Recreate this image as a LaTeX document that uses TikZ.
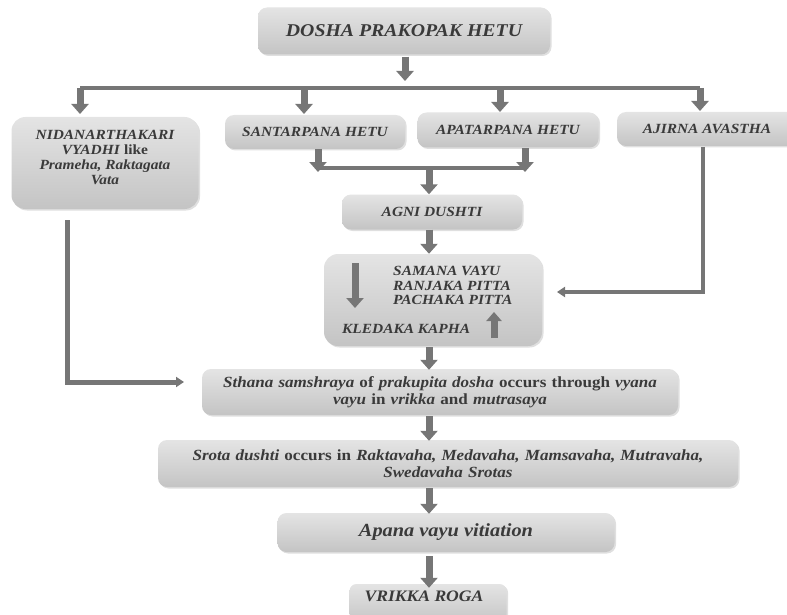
\documentclass[tikz,border=0pt]{standalone}
\usepackage{fontspec}
\setmainfont[FakeStretch=1.1]{Liberation Serif}
\usetikzlibrary{arrows.meta,shadows,calc}
\definecolor{txt}{HTML}{3A3A3A}
\definecolor{arr}{HTML}{767676}
\definecolor{boxtop}{HTML}{E4E4E4}
\definecolor{boxbot}{HTML}{C4C4C4}
\begin{document}
\begin{tikzpicture}[x=1pt,y=-1pt,
  box/.style={rectangle, rounded corners=9pt, top color=boxtop, bottom color=boxbot,
    draw=none, drop shadow={opacity=0.25,shadow xshift=1.5pt,shadow yshift=-1.5pt},
    text=txt, font=\bfseries\itshape\fontsize{14}{15}\selectfont, align=center, inner sep=2pt},
  sent/.style={font=\bfseries\itshape\fontsize{15.5}{17}\selectfont},
  blk/.style={line width=7pt, draw=arr, -{Triangle[width=17pt,length=10pt]}},
  bar/.style={line width=3.5pt, draw=arr},
  thinarr/.style={line width=3.5pt, draw=arr, -{Triangle[width=10pt,length=8pt]}},
  lbl/.style={text=txt, font=\bfseries\itshape\fontsize{14}{15}\selectfont, inner sep=0pt},
]
\useasboundingbox (0,0) rectangle (787,615);

% boxes
\node[box, minimum width=292, minimum height=47, font=\bfseries\itshape\fontsize{18}{21}\selectfont] (dosha) at (404,31) {DOSHA PRAKOPAK HETU};
\node[box, minimum width=187, minimum height=92, rounded corners=14pt] (nidan) at (105,163) {};
\node[lbl, align=center] (nidantxt) at (105,157)
  {NIDANARTHAKARI\\ VYADHI \textup{like}\\ Prameha, Raktagata\\ Vata};
\node[box, minimum width=180, minimum height=34] (sant) at (315,132) {SANTARPANA HETU};
\node[box, minimum width=181, minimum height=35] (apat) at (508,130) {APATARPANA HETU};
\node[box, minimum width=180, minimum height=34] (ajirna) at (707,129) {AJIRNA AVASTHA};
\node[box, minimum width=180, minimum height=35] (agni) at (432,212) {AGNI DUSHTI};
\node[box, minimum width=218, minimum height=92, rounded corners=14pt] (mid) at (433,300) {};
\node[box, sent, minimum width=476, minimum height=46, text width=466] (sthana) at (440,392)
  {Sthana samshraya \textup{of} prakupita dosha \textup{occurs through} vyana\\
   vayu \textup{in} vrikka \textup{and} mutrasaya};
\node[box, sent, minimum width=580, minimum height=47, text width=570] (srota) at (448,463.5)
  {Srota dushti \textup{occurs in} Raktavaha, Medavaha, Mamsavaha, Mutravaha,\\ Swedavaha Srotas};
\node[box, minimum width=337, minimum height=39, font=\bfseries\itshape\fontsize{18.5}{21}\selectfont] (apana) at (446,532.5) {Apana vayu vitiation};
\node[box, minimum width=157, minimum height=40, rounded corners=7pt] (vrikka) at (428,604) {};
\node[lbl, font=\bfseries\itshape\fontsize{16}{18}\selectfont] (vrtxt) at (424,596) {VRIKKA ROGA};

% text inside the middle box
\node[lbl, anchor=west] (sam) at (393,271) {SAMANA VAYU};
\node[lbl, anchor=west] (ran) at (393,286) {RANJAKA PITTA};
\node[lbl, anchor=west] (pac) at (393,300) {PACHAKA PITTA};
\node[lbl, anchor=west] (kle) at (342,329) {KLEDAKA KAPHA};
\coordinate (md1) at (355,263);
\coordinate (md2) at (355,308);
\coordinate (mu1) at (494,338);
\coordinate (mu2) at (494,312);
\draw[blk] (md1) -- (md2);
\draw[blk, -{Triangle[width=15pt,length=9pt]}] (mu1) -- (mu2);

% top split
\coordinate (j0) at (405,81);
\draw[blk] (dosha.south -| j0) ++(0,2) -- (j0);
\coordinate (b1) at (80,88);
\coordinate (b2) at (304,88);
\coordinate (b3) at (500,88);
\coordinate (b4) at (700,88);
\draw[bar] (b1) -- (b4);
\draw[blk] (b1) -- (80,114);
\draw[blk] (b2) -- (304,114);
\draw[blk] (b3) -- (500,112);
\draw[blk] (b4) -- (700,111);

% santarpana / apatarpana join
\coordinate (s1) at (318,149);
\coordinate (s2) at (318,172);
\coordinate (a1) at (525,148);
\coordinate (a2) at (525,172);
\draw[blk] (s1) -- (s2);
\draw[blk] (a1) -- (a2);
\coordinate (jl) at (318,168);
\coordinate (jr) at (525,168);
\coordinate (jm) at (429,168);
\draw[bar] (jl) -- (jr);
\draw[blk] (jm) -- (jm |- agni.north);

% main column
\coordinate (cx) at (429,0);
\draw[blk] (agni.south -| cx) -- (mid.north -| cx);
\draw[blk] (mid.south -| cx) ++(0,1) -- ([yshift=-1pt]sthana.north -| cx);
\draw[blk] (sthana.south -| cx) ++(0,1) -- ([yshift=-1pt]srota.north -| cx);
\draw[blk] (srota.south -| cx) ++(0,1) -- ([yshift=-1pt]apana.north -| cx);
\draw[blk] (apana.south -| cx) ++(0,4) -- ([yshift=-4pt]vrikka.north -| cx);

% ajirna feed
\coordinate (aj1) at (703,147);
\coordinate (aj2) at (557,292);
\draw[thinarr] (aj1) |- (aj2);

% nidan feed
\coordinate (n1) at (67,220);
\coordinate (n2) at (184,382);
\draw[thinarr, line width=5pt] (n1) |- (n2);
\end{tikzpicture}
\end{document}
